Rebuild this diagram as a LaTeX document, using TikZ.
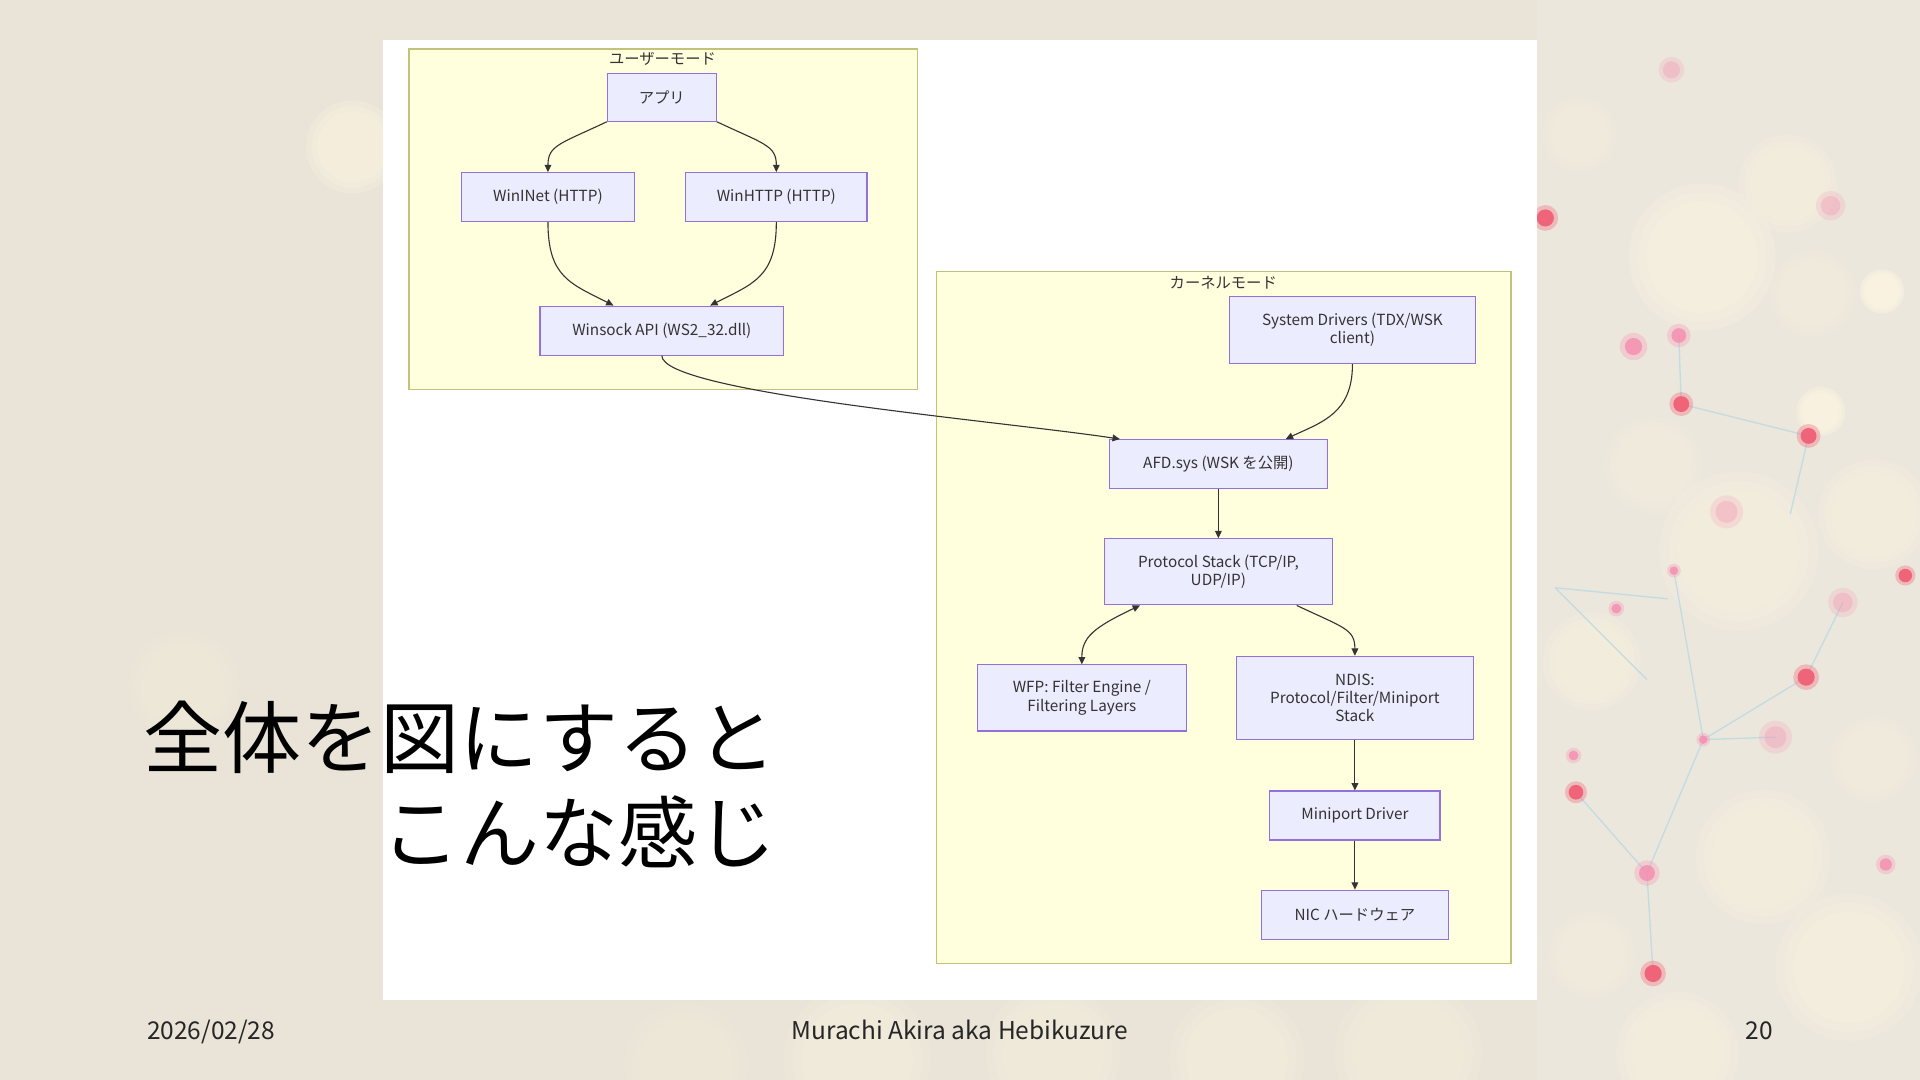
\documentclass[tikz,border=0pt]{standalone}
\usepackage{fontspec}
\setmainfont{Noto Sans CJK JP}
\usetikzlibrary{arrows.meta}
\definecolor{bgcol}{HTML}{EAE4D8}
\definecolor{nodefill}{HTML}{ECECFF}
\definecolor{nodeborder}{HTML}{9370DB}
\definecolor{clusterfill}{HTML}{FFFFDE}
\definecolor{clusterborder}{HTML}{C2C27A}
\definecolor{edgecol}{HTML}{333333}
\definecolor{dotred}{HTML}{F0647A}
\definecolor{dotpink}{HTML}{F48FB1}
\definecolor{netblue}{HTML}{A8D4E8}
\definecolor{glow}{HTML}{FFF8E2}
\begin{document}
\begin{tikzpicture}[x=1pt,y=-1pt,
  mnode/.style={draw=nodeborder, fill=nodefill, line width=0.9pt, inner sep=0pt,
    align=center, text=edgecol, font=\fontsize{12.5}{15}\selectfont},
  cluster/.style={draw=clusterborder, fill=clusterfill, line width=0.9pt, inner sep=0pt},
  clabel/.style={text=edgecol, font=\fontsize{12.5}{15}\selectfont, inner sep=0pt},
  edge/.style={draw=edgecol, line width=0.9pt, -{Triangle[length=6pt,width=5.5pt]}},
  bedge/.style={draw=edgecol, line width=0.9pt, {Triangle[length=6pt,width=5.5pt]}-{Triangle[length=6pt,width=5.5pt]}},
  title/.style={anchor=base east, inner sep=0pt, text=black, font=\fontsize{64.5}{78}\selectfont},
  foot/.style={inner sep=0pt, text=black!85, font=\fontsize{20}{24}\selectfont}
]
% background
\path[use as bounding box, fill=bgcol] (0,0) rectangle (1568,882);
\fill[white, opacity=0.12] (1255,0) rectangle (1568,882);
% soft bokeh glows (layered for a blurred edge)
\foreach \x/\y/\r/\o in {288/120/38/0.5, 150/560/45/0.2, 1390/210/60/0.4, 1460/150/40/0.3,
  1537/238/18/0.8, 1487/336/20/0.7, 1290/110/30/0.25, 1420/450/65/0.3, 1530/420/45/0.3,
  1440/700/55/0.3, 1510/790/60/0.35, 1300/540/40/0.3, 1370/860/50/0.3, 1530/620/35/0.25,
  1300/780/35/0.25, 1480/240/35/0.25, 1350/380/40/0.2, 700/865/60/0.3, 860/860/55/0.25,
  1010/865/55/0.3, 1150/860/60/0.25, 560/870/50/0.2}
  {\foreach \k in {1.0,0.88,0.76}
     \fill[glow, opacity=\o*0.45] (\x,\y) circle (\r*\k pt);}
% network lines
\draw[netblue, line width=1.1pt, opacity=0.6]
  (1373,330) -- (1477,356)
  (1373,330) -- (1371,274)
  (1270,480) -- (1362,489)
  (1270,480) -- (1345,555)
  (1391,604) -- (1475,553)
  (1350,795) -- (1345,713)
  (1345,713) -- (1391,604)
  (1391,604) -- (1367,466)
  (1475,553) -- (1505,492)
  (1287,647) -- (1345,713)
  (1391,604) -- (1450,602)
  (1477,356) -- (1462,420);
% dots
\foreach \x/\y/\r in {1262/178/7, 1373/330/6.5, 1477/356/6.5, 1556/470/5.5, 1475/553/7,
  1350/795/7, 1287/647/6}
  {\fill[dotred, opacity=0.35] (\x,\y) circle (\r*1.5 pt);
   \fill[dotred] (\x,\y) circle (\r pt);}
\foreach \x/\y/\r in {1334/283/7, 1371/274/6, 1391/604/3.5, 1345/713/6.5, 1285/617/4,
  1367/466/3.5, 1320/497/4, 1540/706/5}
  {\fill[dotpink, opacity=0.3] (\x,\y) circle (\r*1.6 pt);
   \fill[dotpink, opacity=0.85] (\x,\y) circle (\r pt);}
\foreach \x/\y/\r in {1410/418/9, 1450/602/9, 1505/492/8, 1365/57/7, 1495/168/8}
  {\fill[dotpink, opacity=0.2] (\x,\y) circle (\r*1.5 pt);
   \fill[dotpink, opacity=0.3] (\x,\y) circle (\r pt);}
% white panel
\fill[white] (313,33) rectangle (1255,817);
% clusters
\node[cluster, minimum width=415pt, minimum height=278pt] (user) at (541.5,179) {};
\node[clabel] (userlbl) at (541,48) {ユーザーモード};
\node[cluster, minimum width=469pt, minimum height=565pt] (kernel) at (999.5,504.5) {};
\node[clabel] (kernellbl) at (999,231) {カーネルモード};
% nodes
\node[mnode, minimum width=89pt, minimum height=39pt] (app) at (540.5,79.5) {アプリ};
\node[mnode, minimum width=141pt, minimum height=40pt] (wininet) at (447.5,161) {WinINet (HTTP)};
\node[mnode, minimum width=148pt, minimum height=40pt] (winhttp) at (634,161) {WinHTTP (HTTP)};
\node[mnode, minimum width=199pt, minimum height=40pt] (winsock) at (540.5,270) {Winsock API (WS2\_32.dll)};
\node[mnode, minimum width=201pt, minimum height=55pt] (sysdrv) at (1104.5,269.5) {System Drivers (TDX/WSK\\client)};
\node[mnode, minimum width=178pt, minimum height=40pt] (afd) at (995,379) {AFD.sys (WSK を公開)};
\node[mnode, minimum width=186pt, minimum height=54pt] (proto) at (995,467) {Protocol Stack (TCP/IP,\\UDP/IP)};
\node[mnode, minimum width=171pt, minimum height=54pt] (wfp) at (883.5,570) {WFP: Filter Engine /\\Filtering Layers};
\node[mnode, minimum width=193pt, minimum height=68pt] (ndis) at (1106.5,570) {NDIS:\\Protocol/Filter/Miniport\\Stack};
\node[mnode, minimum width=139pt, minimum height=40pt] (miniport) at (1106.5,666) {Miniport Driver};
\node[mnode, minimum width=153pt, minimum height=40pt] (nic) at (1106.5,747) {NIC ハードウェア};
% edges
\draw[edge] (app.south west) .. controls +(-38,18) and +(0,-22) .. (wininet.north);
\draw[edge] (app.south east) .. controls +(38,18) and +(0,-22) .. (winhttp.north);
\draw[edge] (wininet.south) .. controls +(0,45) and +(-35,-18) .. ([xshift=-39.5pt]winsock.north);
\draw[edge] (winhttp.south) .. controls +(0,45) and +(35,-18) .. ([xshift=39.5pt]winsock.north);
\draw[edge] (winsock.south) .. controls +(0,30) and +(-100,-15) .. ([xshift=9pt]afd.north west);
\draw[edge] (sysdrv.south) .. controls +(0,40) and +(30,-14) .. ([xshift=55pt]afd.north);
\draw[edge] (afd.south) -- (proto.north);
\draw[bedge] ([xshift=-64pt]proto.south) .. controls +(-38,18) and +(0,-22) .. (wfp.north);
\draw[edge] ([xshift=64pt]proto.south) .. controls +(38,18) and +(0,-22) .. (ndis.north);
\draw[edge] (ndis.south) -- (miniport.north);
\draw[edge] (miniport.south) -- (nic.north);
% title
\node[title] (title1) at (634,627) {全体を図にすると};
\node[title] (title2) at (634,704) {こんな感じ};
% footer
\node[foot, anchor=base west] (date) at (120,849) {2026/02/28};
\node[foot, anchor=base] (author) at (784,849) {Murachi Akira aka Hebikuzure};
\node[foot, anchor=base east] (page) at (1448,849) {20};
\end{tikzpicture}
\end{document}
